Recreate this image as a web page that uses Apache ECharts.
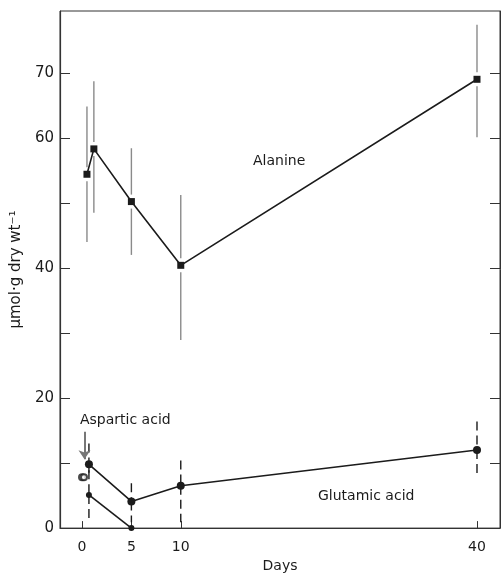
<!DOCTYPE html>
<html>
<head>
<meta charset="utf-8">
<script src="https://cdn.jsdelivr.net/npm/echarts@6/dist/echarts.min.js"></script>
<style>
  html, body { margin: 0; padding: 0; background: #fff; }
  #chart { width: 502px; height: 578px; }
</style>
</head>
<body>
<div id="chart"></div>
<script>
// values (days, umol/g dry wt)
var alanineX = [0.5, 1.2, 5, 10, 40]
var alanineY = [54.4, 58.3, 50.2, 40.4, 69.0]
var alanineLow = [44.0, 48.5, 42.0, 28.9, 60.1]
var alanineHigh = [64.8, 68.7, 58.4, 51.2, 77.4]

var glutamicX = [0.7, 5, 10, 40]
var glutamicY = [9.8, 4.1, 6.5, 12.0]
var glutamicLow = [8.5, 0.9, 0.9, 7.7]
var glutamicHigh = [13.0, 6.9, 10.4, 16.4]

var asparticX = [0.7, 5]
var asparticY = [5.1, 0]
var asparticLow = [1.4, 0]
var asparticHigh = [8.9, 0]

// initial (day 0) values, both acids overlap
var initialX = [0, 0.2]
var initialY = [7.8, 7.8]

var xTicks = [0, 5, 10, 40]
var yTicks = [0, 10, 20, 30, 40, 50, 60, 70]
var yLabels = [0, 20, 40, 60, 70]

var ink = '#1b1b1b'
var font = 'DejaVu Sans'

var pairs = function (xs, ys) {
  return xs.map(function (x, i) { return [x, ys[i]] })
}

var errorBars = function (xs, ys, lo, hi, color, dashed, gap) {
  return {
    type: 'custom',
    silent: true,
    data: xs.map(function (x, i) { return [x, ys[i], lo[i], hi[i]] }),
    renderItem: function (params, api) {
      var top = api.coord([api.value(0), api.value(3)])
      var mid = api.coord([api.value(0), api.value(1)])
      var bot = api.coord([api.value(0), api.value(2)])
      var style = { stroke: color, lineWidth: 1.4, lineDash: dashed ? [9, 5] : null }
      var kids = []
      if (mid[1] - gap > top[1]) {
        kids.push({ type: 'line', shape: { x1: top[0], y1: top[1], x2: mid[0], y2: mid[1] - gap }, style: style })
      }
      if (mid[1] + gap < bot[1]) {
        kids.push({ type: 'line', shape: { x1: mid[0], y1: mid[1] + gap, x2: bot[0], y2: bot[1] }, style: style })
      }
      return { type: 'group', children: kids }
    },
    z: 1
  }
}

var chart = echarts.init(document.getElementById('chart'))

chart.setOption({
  animation: false,
  backgroundColor: '#fff',
  grid: {
    left: 60, right: 2, top: 11, bottom: 39,
    show: true, borderColor: '#333', borderWidth: 1
  },
  xAxis: {
    type: 'value',
    min: -2.23,
    max: 42.33,
    name: 'Days',
    nameLocation: 'middle',
    nameGap: 24,
    nameTextStyle: { fontFamily: font, fontSize: 14, color: ink },
    splitLine: { show: false },
    axisLine: { show: true, onZero: false, lineStyle: { color: '#333', width: 1.2 } },
    axisTick: { show: true, inside: true, length: 7, customValues: xTicks, lineStyle: { color: '#333' } },
    axisLabel: { customValues: xTicks, margin: 12, fontFamily: font, fontSize: 14, color: ink }
  },
  yAxis: [{
    type: 'value',
    min: 0,
    max: 79.5,
    name: 'μmol·g dry wt⁻¹',
    nameLocation: 'middle',
    nameRotate: 90,
    nameGap: 36,
    nameTextStyle: { fontFamily: font, fontSize: 15, color: ink },
    splitLine: { show: false },
    axisLine: { show: true, onZero: false, lineStyle: { color: '#333', width: 1.2 } },
    axisTick: { show: true, inside: true, length: 10, customValues: yTicks, lineStyle: { color: '#333' } },
    axisLabel: { customValues: yLabels, margin: 6, fontFamily: font, fontSize: 15, color: ink }
  }, {
    type: 'value',
    position: 'right',
    min: 0,
    max: 79.5,
    splitLine: { show: false },
    axisLine: { show: true, onZero: false, lineStyle: { color: '#333' } },
    axisTick: { show: true, inside: true, length: 10, customValues: yTicks, lineStyle: { color: '#333' } },
    axisLabel: { show: false }
  }],
  series: [
    errorBars(alanineX, alanineY, alanineLow, alanineHigh, '#8a8a8a', false, 7),
    errorBars(glutamicX, glutamicY, glutamicLow, glutamicHigh, ink, true, 0),
    errorBars(asparticX, asparticY, asparticLow, asparticHigh, ink, true, 0),
    {
      name: 'Alanine',
      type: 'line',
      data: pairs(alanineX, alanineY),
      symbol: 'rect',
      symbolSize: 7,
      itemStyle: { color: ink },
      lineStyle: { color: ink, width: 1.6 },
      z: 3
    },
    {
      name: 'Glutamic acid',
      type: 'line',
      data: pairs(glutamicX, glutamicY),
      symbol: 'circle',
      symbolSize: 8,
      itemStyle: { color: ink },
      lineStyle: { color: ink, width: 1.6 },
      z: 3
    },
    {
      name: 'Aspartic acid',
      type: 'line',
      data: pairs(asparticX, asparticY),
      symbol: 'circle',
      symbolSize: 6,
      itemStyle: { color: ink },
      lineStyle: { color: ink, width: 1.6 },
      markLine: {
        silent: true,
        symbol: ['none', 'arrow'],
        symbolSize: 9,
        label: { show: false },
        lineStyle: { color: '#777', width: 2, type: 'solid' },
        data: [[{ coord: [0.25, 14.8] }, { coord: [0.25, 10.6] }]]
      },
      z: 3
    },
    {
      name: 'Initial',
      type: 'scatter',
      data: pairs(initialX, initialY),
      symbol: 'emptyCircle',
      symbolSize: 6,
      itemStyle: { color: ink, borderWidth: 1.5 },
      z: 3
    }
  ],
  graphic: [
    { type: 'text', left: 253, top: 154, style: { text: 'Alanine', font: '14px "DejaVu Sans"', fill: ink } },
    { type: 'text', left: 80, top: 413, style: { text: 'Aspartic acid', font: '14px "DejaVu Sans"', fill: ink } },
    { type: 'text', left: 318, top: 489, style: { text: 'Glutamic acid', font: '14px "DejaVu Sans"', fill: ink } }
  ]
})
</script>
</body>
</html>
